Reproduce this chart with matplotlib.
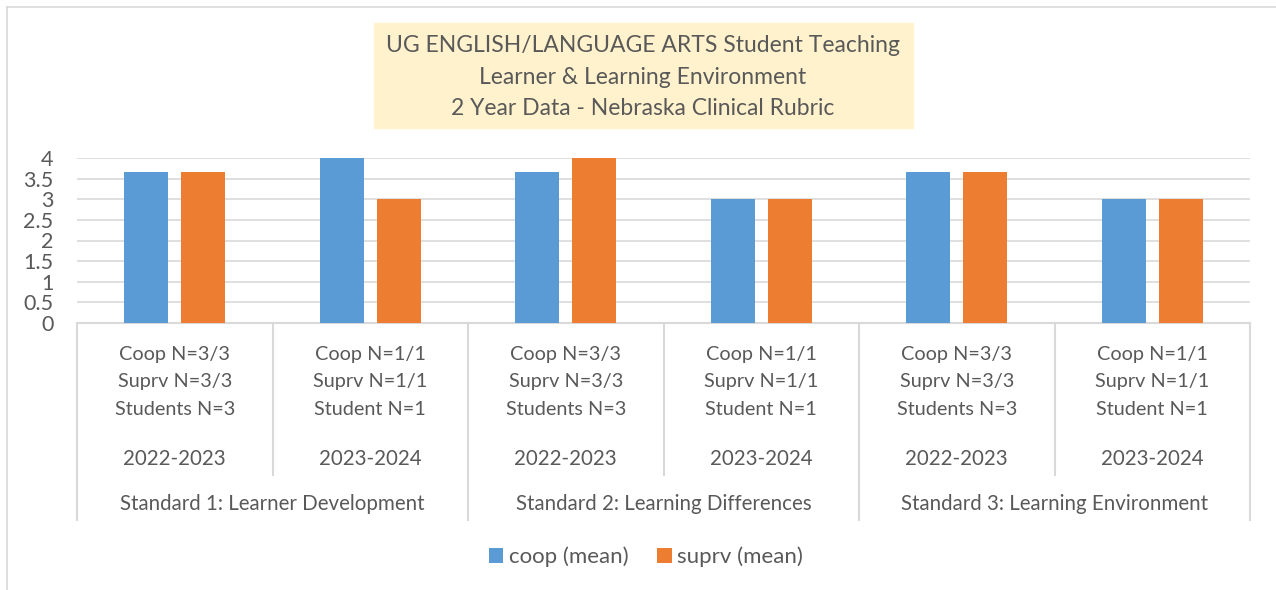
import numpy as np
import matplotlib.pyplot as plt
from matplotlib.transforms import blended_transform_factory

# data
standards = ["Standard 1: Learner Development",
             "Standard 2: Learning Differences",
             "Standard 3: Learning Environment"]
years = ["2022-2023", "2023-2024"] * 3
counts = ["Coop N=3/3\nSuprv N=3/3\nStudents N=3",
          "Coop N=1/1\nSuprv N=1/1\nStudent N=1"] * 3
coop = [3.67, 4, 3.67, 3, 3.67, 3]
suprv = [3.67, 3, 4, 3, 3.67, 3]
yticks = [0, 0.5, 1, 1.5, 2, 2.5, 3, 3.5, 4]
title = ("UG ENGLISH/LANGUAGE ARTS Student Teaching\n"
         "Learner & Learning Environment\n"
         "2 Year Data - Nebraska Clinical Rubric")

plt.rcParams['font.family'] = ['Lato', 'DejaVu Sans']
txt = '#595959'
grid = '#D9D9D9'
W, H = 1276, 590

fig = plt.figure(figsize=(W / 100, H / 100), dpi=100)
ax = fig.add_axes([77 / W, 1 - 323 / H, (1250 - 77) / W, (323 - 158) / H])

x = np.arange(len(coop))
bw = 0.225
off = 0.145
ax.bar(x - off, coop, bw, color='#5B9BD5', label='coop (mean)', zorder=3)
ax.bar(x + off, suprv, bw, color='#ED7D31', label='suprv (mean)', zorder=3)

ax.set_xlim(-0.5, len(coop) - 0.5)
ax.set_ylim(0, 4)
ax.set_yticks(yticks)
ax.set_yticklabels([f"{v:g}" for v in yticks], fontsize=15.5, color=txt)
ax.tick_params(axis='y', length=0, pad=17)
ax.tick_params(axis='x', length=0, labelbottom=False)
ax.yaxis.grid(True, color=grid, linewidth=1.2, zorder=0)
for s in ax.spines.values():
    s.set_visible(False)

# category axis (multi-level)
tr = blended_transform_factory(ax.transData, ax.transAxes)
h = 323 - 158
y_in = -(475 - 323) / h
y_out = -(520 - 323) / h
ax.plot([-0.5, len(coop) - 0.5], [0, 0], color=grid, lw=1.5, transform=tr, clip_on=False)
for i in range(len(coop) + 1):
    xs = i - 0.5
    y_end = y_out if i % 2 == 0 else y_in
    ax.plot([xs, xs], [0, y_end], color=grid, lw=1.5, transform=tr, clip_on=False)
for i in range(len(coop)):
    ax.text(i, -(382 - 323) / h, counts[i], transform=tr, ha='center', va='center',
            fontsize=14.3, color=txt, linespacing=1.73)
    ax.text(i, -(459 - 323) / h, years[i], transform=tr, ha='center', va='center',
            fontsize=14.8, color=txt)
for j, s in enumerate(standards):
    ax.text(2 * j + 0.5, -(504 - 323) / h, s, transform=tr, ha='center', va='center',
            fontsize=14.8, color=txt)

# title box
fig.patches.append(plt.Rectangle((374 / W, 1 - 128 / H), (913 - 374) / W, (128 - 23) / H,
                                 transform=fig.transFigure, color='#FFF2CC', zorder=0))
fig.text(643 / W, 1 - 77 / H, title, ha='center', va='center', fontsize=16.5,
         color=txt, linespacing=1.63)

# chart border
fig.add_artist(plt.Line2D([7 / W, 7 / W], [0, 1 - 7 / H], color=grid, lw=1.2))
fig.add_artist(plt.Line2D([7 / W, 1], [1 - 7 / H, 1 - 7 / H], color=grid, lw=1.2))

fig.legend(loc='center', bbox_to_anchor=(646 / W, 1 - 557 / H), ncol=2, frameon=False,
           fontsize=16, labelcolor=txt, handlelength=0.64, handleheight=0.64,
           handletextpad=0.25, columnspacing=1.3)

fig.savefig('out.png', dpi=100)
